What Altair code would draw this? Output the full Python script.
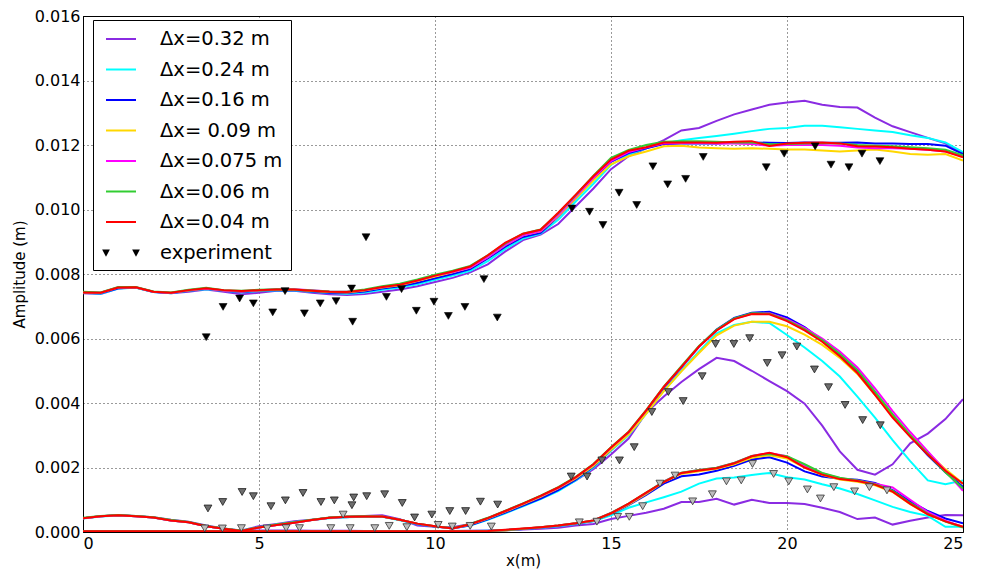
import altair as alt
import pandas as pd

# ---------------- data ----------------
X = [i * 0.5 for i in range(51)]  # simulation grid positions (m)

LABELS = ["Δx=0.32 m", "Δx=0.24 m", "Δx=0.16 m", "Δx= 0.09 m",
          "Δx=0.075 m", "Δx=0.06 m", "Δx=0.04 m"]
COLORS = ["#8a2be2", "#00ffff", "#0000ff", "#ffd700", "#ff00ff", "#32cd32", "#ff0000"]
EXP_LABEL = "experiment"

XTICKS = [0, 5, 10, 15, 20, 25]
YTICKS = [0.0, 0.002, 0.004, 0.006, 0.008, 0.010, 0.012, 0.014, 0.016]

# first harmonic
P1 = [0.00740,0.00738,0.00755,0.00758,0.00745,0.00740,0.00745,0.00752,0.00745,0.00737,
      0.00742,0.00748,0.00748,0.00742,0.00737,0.00735,0.00738,0.00745,0.00752,0.00762,
      0.00775,0.00788,0.00805,0.00830,0.00870,0.00905,0.00922,0.00955,0.01010,0.01065,
      0.01125,0.01165,0.01190,0.01215,0.01245,0.01253,0.01275,0.01295,0.01310,0.01325,
      0.01332,0.01337,0.01325,0.01318,0.01316,0.01285,0.01258,0.01240,0.01222,0.01205,
      0.01175]
C1 = [0.00742,0.00739,0.00755,0.00757,0.00744,0.00740,0.00748,0.00753,0.00748,0.00743,
      0.00747,0.00749,0.00749,0.00745,0.00741,0.00739,0.00743,0.00751,0.00758,0.00768,
      0.00782,0.00795,0.00810,0.00840,0.00878,0.00910,0.00925,0.00968,0.01025,0.01080,
      0.01138,0.01170,0.01190,0.01205,0.01215,0.01222,0.01228,0.01235,0.01243,0.01250,
      0.01253,0.01260,0.01260,0.01255,0.01250,0.01245,0.01240,0.01230,0.01222,0.01208,
      0.01178]
B1 = [0.00742,0.00740,0.00756,0.00758,0.00744,0.00741,0.00748,0.00754,0.00748,0.00744,
      0.00748,0.00750,0.00750,0.00746,0.00742,0.00741,0.00746,0.00755,0.00762,0.00773,
      0.00787,0.00800,0.00815,0.00848,0.00885,0.00915,0.00928,0.00978,0.01035,0.01093,
      0.01148,0.01175,0.01190,0.01203,0.01205,0.01205,0.01205,0.01207,0.01208,0.01207,
      0.01206,0.01208,0.01207,0.01207,0.01208,0.01205,0.01205,0.01203,0.01203,0.01198,
      0.01172]
Y1 = [0.00743,0.00742,0.00758,0.00758,0.00745,0.00742,0.00749,0.00755,0.00749,0.00746,
      0.00749,0.00751,0.00751,0.00747,0.00744,0.00743,0.00749,0.00758,0.00765,0.00778,
      0.00792,0.00805,0.00820,0.00852,0.00890,0.00920,0.00932,0.00980,0.01035,0.01090,
      0.01140,0.01165,0.01180,0.01196,0.01198,0.01192,0.01190,0.01188,0.01190,0.01188,
      0.01186,0.01186,0.01183,0.01180,0.01183,0.01186,0.01180,0.01172,0.01170,0.01172,
      0.01152]
M1 = [0.00744,0.00742,0.00759,0.00759,0.00745,0.00741,0.00750,0.00755,0.00749,0.00746,
      0.00750,0.00753,0.00753,0.00750,0.00746,0.00745,0.00750,0.00760,0.00768,0.00780,
      0.00795,0.00806,0.00820,0.00852,0.00890,0.00920,0.00933,0.00983,0.01040,0.01098,
      0.01150,0.01178,0.01192,0.01205,0.01206,0.01207,0.01205,0.01205,0.01203,0.01198,
      0.01200,0.01200,0.01200,0.01198,0.01192,0.01190,0.01190,0.01188,0.01185,0.01180,
      0.01165]
G1 = [0.00745,0.00743,0.00760,0.00760,0.00746,0.00743,0.00751,0.00757,0.00750,0.00748,
      0.00751,0.00753,0.00752,0.00749,0.00746,0.00745,0.00752,0.00762,0.00770,0.00783,
      0.00798,0.00810,0.00825,0.00858,0.00895,0.00925,0.00938,0.00988,0.01045,0.01105,
      0.01160,0.01185,0.01200,0.01210,0.01212,0.01212,0.01210,0.01208,0.01208,0.01202,
      0.01203,0.01205,0.01206,0.01205,0.01200,0.01198,0.01196,0.01193,0.01190,0.01185,
      0.01168]
R1 = [0.00743,0.00742,0.00758,0.00759,0.00745,0.00742,0.00750,0.00756,0.00750,0.00747,
      0.00750,0.00752,0.00752,0.00748,0.00745,0.00744,0.00750,0.00760,0.00767,0.00780,
      0.00795,0.00808,0.00823,0.00858,0.00897,0.00925,0.00937,0.00990,0.01046,0.01103,
      0.01155,0.01182,0.01193,0.01208,0.01208,0.01208,0.01207,0.01210,0.01212,0.01197,
      0.01205,0.01207,0.01208,0.01205,0.01196,0.01195,0.01193,0.01188,0.01185,0.01180,
      0.01162]

# second harmonic
P2 = [0.00043,0.00049,0.00052,0.00050,0.00046,0.00038,0.00032,0.00020,0.00011,0.00005,
      0.00018,0.00025,0.00033,0.00038,0.00044,0.00046,0.00050,0.00052,0.00040,0.00020,
      0.00016,0.00015,0.00025,0.00043,0.00064,0.00086,0.00108,0.00130,0.00160,0.00195,
      0.00240,0.00290,0.00370,0.00420,0.00465,0.00505,0.00540,0.00530,0.00500,0.00468,
      0.00437,0.00398,0.00330,0.00250,0.00193,0.00178,0.00210,0.00275,0.00305,0.00350,
      0.00412]
C2 = [0.00042,0.00048,0.00051,0.00049,0.00045,0.00036,0.00030,0.00018,0.00010,0.00004,
      0.00015,0.00023,0.00030,0.00037,0.00043,0.00046,0.00047,0.00047,0.00036,0.00024,
      0.00017,0.00012,0.00020,0.00038,0.00058,0.00080,0.00102,0.00127,0.00160,0.00200,
      0.00252,0.00300,0.00367,0.00438,0.00500,0.00560,0.00616,0.00642,0.00652,0.00648,
      0.00611,0.00572,0.00530,0.00482,0.00420,0.00355,0.00285,0.00220,0.00160,0.00148,
      0.00160]
B2 = [0.00043,0.00049,0.00052,0.00049,0.00045,0.00036,0.00030,0.00018,0.00010,0.00003,
      0.00014,0.00022,0.00029,0.00037,0.00044,0.00047,0.00048,0.00048,0.00038,0.00025,
      0.00017,0.00011,0.00021,0.00039,0.00060,0.00082,0.00104,0.00130,0.00162,0.00203,
      0.00255,0.00305,0.00372,0.00447,0.00510,0.00575,0.00628,0.00664,0.00680,0.00683,
      0.00665,0.00635,0.00595,0.00550,0.00500,0.00432,0.00362,0.00298,0.00238,0.00185,
      0.00140]
Y2 = [0.00043,0.00049,0.00052,0.00049,0.00045,0.00036,0.00030,0.00018,0.00010,0.00003,
      0.00014,0.00022,0.00029,0.00037,0.00044,0.00047,0.00048,0.00048,0.00038,0.00026,
      0.00018,0.00011,0.00023,0.00042,0.00063,0.00086,0.00109,0.00135,0.00166,0.00205,
      0.00255,0.00302,0.00367,0.00437,0.00498,0.00555,0.00610,0.00640,0.00652,0.00652,
      0.00638,0.00612,0.00580,0.00540,0.00490,0.00425,0.00360,0.00300,0.00245,0.00195,
      0.00150]
M2 = [0.00043,0.00049,0.00052,0.00049,0.00045,0.00036,0.00030,0.00018,0.00010,0.00003,
      0.00014,0.00022,0.00029,0.00037,0.00044,0.00047,0.00048,0.00048,0.00038,0.00026,
      0.00018,0.00011,0.00024,0.00043,0.00065,0.00088,0.00111,0.00137,0.00169,0.00209,
      0.00261,0.00309,0.00376,0.00449,0.00511,0.00574,0.00625,0.00661,0.00677,0.00678,
      0.00660,0.00633,0.00600,0.00560,0.00510,0.00445,0.00375,0.00310,0.00250,0.00190,
      0.00128]
G2 = [0.00044,0.00050,0.00053,0.00050,0.00046,0.00037,0.00031,0.00019,0.00011,0.00004,
      0.00015,0.00023,0.00030,0.00038,0.00045,0.00048,0.00049,0.00048,0.00038,0.00026,
      0.00018,0.00012,0.00025,0.00044,0.00066,0.00089,0.00113,0.00139,0.00171,0.00211,
      0.00263,0.00311,0.00378,0.00451,0.00514,0.00577,0.00627,0.00662,0.00678,0.00677,
      0.00657,0.00629,0.00595,0.00553,0.00502,0.00435,0.00365,0.00300,0.00242,0.00185,
      0.00135]
R2 = [0.00043,0.00049,0.00052,0.00049,0.00045,0.00036,0.00030,0.00018,0.00010,0.00003,
      0.00014,0.00022,0.00029,0.00037,0.00044,0.00047,0.00048,0.00048,0.00038,0.00026,
      0.00018,0.00011,0.00024,0.00043,0.00065,0.00088,0.00112,0.00138,0.00170,0.00210,
      0.00262,0.00310,0.00377,0.00450,0.00512,0.00575,0.00625,0.00660,0.00676,0.00675,
      0.00654,0.00625,0.00590,0.00545,0.00493,0.00425,0.00355,0.00295,0.00240,0.00190,
      0.00150]

# third harmonic
P3 = [0.00003,0.00003,0.00003,0.00003,0.00003,0.00003,0.00003,0.00003,0.00003,0.00004,
      0.00005,0.00005,0.00005,0.00004,0.00004,0.00004,0.00003,0.00003,0.00003,0.00003,
      0.00003,0.00003,0.00004,0.00005,0.00006,0.00008,0.00010,0.00013,0.00020,0.00025,
      0.00040,0.00050,0.00060,0.00072,0.00093,0.00093,0.00103,0.00085,0.00100,0.00090,
      0.00090,0.00087,0.00075,0.00062,0.00040,0.00045,0.00023,0.00035,0.00045,0.00053,
      0.00052]
C3 = [0.00002,0.00002,0.00002,0.00002,0.00002,0.00002,0.00002,0.00002,0.00002,0.00002,
      0.00002,0.00002,0.00002,0.00002,0.00002,0.00002,0.00002,0.00002,0.00002,0.00002,
      0.00002,0.00002,0.00003,0.00004,0.00006,0.00009,0.00013,0.00018,0.00025,0.00033,
      0.00052,0.00075,0.00092,0.00108,0.00125,0.00150,0.00166,0.00169,0.00177,0.00183,
      0.00170,0.00163,0.00148,0.00135,0.00118,0.00098,0.00078,0.00062,0.00050,0.00016,
      0.00016]
B3 = [0.00002,0.00002,0.00002,0.00002,0.00002,0.00002,0.00002,0.00002,0.00002,0.00002,
      0.00002,0.00002,0.00002,0.00002,0.00002,0.00002,0.00002,0.00002,0.00002,0.00002,
      0.00002,0.00002,0.00002,0.00003,0.00005,0.00009,0.00014,0.00019,0.00026,0.00034,
      0.00056,0.00083,0.00115,0.00150,0.00173,0.00178,0.00190,0.00205,0.00225,0.00232,
      0.00215,0.00188,0.00172,0.00165,0.00162,0.00152,0.00130,0.00095,0.00065,0.00042,
      0.00027]
Y3 = [0.00002,0.00002,0.00002,0.00002,0.00002,0.00002,0.00002,0.00002,0.00002,0.00002,
      0.00002,0.00002,0.00002,0.00002,0.00002,0.00002,0.00002,0.00002,0.00002,0.00002,
      0.00002,0.00002,0.00002,0.00003,0.00005,0.00010,0.00015,0.00020,0.00027,0.00035,
      0.00057,0.00085,0.00118,0.00155,0.00180,0.00188,0.00196,0.00210,0.00230,0.00238,
      0.00228,0.00200,0.00177,0.00163,0.00156,0.00145,0.00124,0.00086,0.00055,0.00033,
      0.00017]
M3 = [0.00002,0.00002,0.00002,0.00002,0.00002,0.00002,0.00002,0.00002,0.00002,0.00002,
      0.00002,0.00002,0.00002,0.00002,0.00002,0.00002,0.00002,0.00002,0.00002,0.00002,
      0.00002,0.00002,0.00002,0.00003,0.00006,0.00010,0.00015,0.00020,0.00027,0.00036,
      0.00059,0.00087,0.00121,0.00157,0.00183,0.00192,0.00199,0.00214,0.00236,0.00245,
      0.00235,0.00205,0.00182,0.00167,0.00160,0.00150,0.00138,0.00100,0.00062,0.00035,
      0.00015]
G3 = [0.00002,0.00002,0.00002,0.00002,0.00002,0.00002,0.00002,0.00002,0.00002,0.00002,
      0.00002,0.00002,0.00002,0.00002,0.00002,0.00002,0.00002,0.00002,0.00002,0.00002,
      0.00002,0.00002,0.00002,0.00003,0.00006,0.00010,0.00015,0.00020,0.00027,0.00036,
      0.00059,0.00088,0.00122,0.00156,0.00184,0.00192,0.00199,0.00214,0.00236,0.00242,
      0.00235,0.00210,0.00183,0.00168,0.00160,0.00148,0.00128,0.00090,0.00057,0.00032,
      0.00014]
R3 = [0.00002,0.00002,0.00002,0.00002,0.00002,0.00002,0.00002,0.00002,0.00002,0.00002,
      0.00002,0.00002,0.00002,0.00002,0.00002,0.00002,0.00002,0.00002,0.00002,0.00002,
      0.00002,0.00002,0.00002,0.00003,0.00007,0.00011,0.00015,0.00020,0.00027,0.00036,
      0.00058,0.00088,0.00122,0.00155,0.00183,0.00191,0.00198,0.00213,0.00235,0.00246,
      0.00232,0.00200,0.00178,0.00164,0.00158,0.00147,0.00125,0.00087,0.00055,0.00033,
      0.00016]

# experiment: first harmonic (black)
EXP1_X = [3.50, 3.98, 4.45, 4.84, 5.39, 5.74, 6.29, 6.74, 7.19, 7.63, 7.66, 8.04,
          8.62, 9.05, 9.47, 9.97, 10.38, 10.85, 11.39, 11.77, 13.89, 14.39, 14.77,
          15.23, 15.73, 16.19, 16.61, 17.12, 17.62, 19.41, 19.92, 20.80, 21.25,
          21.76, 22.13, 22.64]
EXP1_Y = [0.00604, 0.00698, 0.00724, 0.00709, 0.00681, 0.00747, 0.00678, 0.00709,
          0.00716, 0.00755, 0.00652, 0.00914, 0.00729, 0.00753, 0.00686, 0.00714,
          0.00670, 0.00698, 0.00784, 0.00665, 0.01003, 0.00993, 0.00952, 0.01052,
          0.01014, 0.01134, 0.01078, 0.01095, 0.01163, 0.01131, 0.01173, 0.01196,
          0.01139, 0.01131, 0.01173, 0.01150]
# experiment: second harmonic (dark grey)
EXP2_X = [3.55, 3.97, 4.52, 4.84, 5.34, 5.75, 6.25, 6.76, 7.14, 7.69, 7.64, 8.06,
          8.57, 9.07, 9.42, 9.91, 10.42, 10.87, 11.29, 11.78, 13.87, 14.32, 14.74,
          15.24, 15.66, 16.16, 16.63, 17.05, 17.59, 17.97, 18.49, 18.94, 19.44,
          19.86, 20.28, 20.78, 21.18, 21.65, 22.15, 22.65]
EXP2_Y = [0.00073, 0.00093, 0.00124, 0.00111, 0.00080, 0.00098, 0.00121, 0.00093,
          0.00098, 0.00107, 0.00083, 0.00111, 0.00117, 0.00090, 0.00045, 0.00054,
          0.00065, 0.00065, 0.00094, 0.00085, 0.00172, 0.00172, 0.00222, 0.00222,
          0.00263, 0.00372, 0.00434, 0.00406, 0.00483, 0.00583, 0.00583, 0.00601,
          0.00524, 0.00548, 0.00575, 0.00504, 0.00449, 0.00394, 0.00347, 0.00331]
# experiment: third harmonic (light grey)
EXP3_X = [3.46, 3.96, 4.50, 5.23, 5.77, 6.15, 7.04, 7.39, 7.59, 8.29, 8.70, 9.20,
          10.09, 10.49, 11.00, 11.60, 14.10, 14.60, 15.19, 15.52, 15.90, 16.39,
          16.82, 17.32, 17.88, 18.28, 18.70, 19.02, 19.62, 20.05, 20.58, 20.95,
          21.33, 21.92, 22.34, 22.84]
EXP3_Y = [0.00011, 0.00011, 0.00012, 0.00011, 0.00012, 0.00012, 0.00012, 0.00054,
          0.00012, 0.00012, 0.00019, 0.00015, 0.00022, 0.00017, 0.00019, 0.00017,
          0.00030, 0.00032, 0.00047, 0.00047, 0.00080, 0.00150, 0.00175, 0.00095,
          0.00117, 0.00157, 0.00160, 0.00211, 0.00180, 0.00157, 0.00132, 0.00104,
          0.00139, 0.00126, 0.00139, 0.00129]

SERIES = [(P1, P2, P3), (C1, C2, C3), (B1, B2, B3), (Y1, Y2, Y3),
          (M1, M2, M3), (G1, G2, G3), (R1, R2, R3)]

# ---------------- tables ----------------
rows = []
for lab, harms in zip(LABELS, SERIES):
    for h, vals in enumerate(harms, start=1):
        for xv, yv in zip(X, vals):
            rows.append({"series": lab, "harm": h, "x": xv, "y": yv})
df = pd.DataFrame(rows)

exp1 = pd.DataFrame({"x": EXP1_X, "y": EXP1_Y})
exp2 = pd.DataFrame({"x": EXP2_X, "y": EXP2_Y})
exp3 = pd.DataFrame({"x": EXP3_X, "y": EXP3_Y})

ALL = LABELS + [EXP_LABEL]
TRI2 = ("M-1.72,-0.2L-1.28,-0.2L-1.5,0.22Z"
        "M1.28,-0.2L1.72,-0.2L1.5,0.22Z")
LINE = "M-1.5,0L1.5,0"
SHAPES = [LINE] * 7 + [TRI2]
STROKES = COLORS + ["#000000"]
leg_df = pd.DataFrame({"series": ALL, "x": [None] * 8, "y": [None] * 8})

# ---------------- encodings ----------------
FONT = "DejaVu Sans"
xenc = alt.X("x:Q", scale=alt.Scale(domain=[0, 25], nice=False, zero=False),
             axis=alt.Axis(values=XTICKS, title="x(m)", format="d"))
yenc = alt.Y("y:Q", scale=alt.Scale(domain=[0, 0.016], nice=False, zero=False),
             axis=alt.Axis(values=YTICKS, title="Amplitude (m)", format=".3f"))

layers = []
for lab in LABELS:
    layers.append(
        alt.Chart(df[df["series"] == lab]).mark_line(strokeWidth=2, clip=True).encode(
            x=xenc, y=yenc,
            color=alt.Color("series:N", scale=alt.Scale(domain=LABELS, range=COLORS), legend=None),
            detail="harm:N",
        )
    )

layers.append(alt.Chart(exp1).mark_point(shape="triangle-down", filled=True, size=62,
                                         fill="#000000", stroke="#000000", strokeWidth=0.6,
                                         opacity=1).encode(x=xenc, y=yenc))
layers.append(alt.Chart(exp2).mark_point(shape="triangle-down", filled=True, size=62,
                                         fill="#6e6e6e", stroke="#1a1a1a", strokeWidth=0.8,
                                         opacity=1).encode(x=xenc, y=yenc))
layers.append(alt.Chart(exp3).mark_point(shape="triangle-down", filled=True, size=62,
                                         fill="#bdbdbd", stroke="#333333", strokeWidth=0.8,
                                         opacity=1).encode(x=xenc, y=yenc))

legend = alt.Legend(title=None, orient="none", legendX=10, legendY=4, padding=8,
                    labelFontSize=19.5, labelFont=FONT, labelColor="black",
                    symbolSize=400, symbolStrokeWidth=2, symbolOffset=9,
                    labelOffset=28, rowPadding=9.5, strokeColor="black",
                    fillColor="white", cornerRadius=0, labelLimit=400)
layers.append(
    alt.Chart(leg_df).mark_point(filled=True, opacity=1).encode(
        x=xenc, y=yenc,
        shape=alt.Shape("series:N", scale=alt.Scale(domain=ALL, range=SHAPES), legend=legend),
        fill=alt.Fill("series:N", scale=alt.Scale(domain=ALL, range=STROKES), legend=legend),
        stroke=alt.Stroke("series:N", scale=alt.Scale(domain=ALL, range=STROKES), legend=legend),
    )
)

chart = alt.layer(*layers).properties(
    width=880, height=516,
    autosize=alt.AutoSizeParams(type="none"),
    padding={"left": 75, "top": 8, "right": 9, "bottom": 40},
    background="white",
).configure_view(
    stroke="black", strokeWidth=1
).configure_axis(
    labelFont=FONT, titleFont=FONT, labelFontSize=16, titleFontSize=15,
    titleFontWeight="normal", labelColor="black", titleColor="black",
    domainColor="black", ticks=False, labelPadding=3,
    grid=True, gridColor="black", gridDash=[1, 3], gridWidth=0.8, gridOpacity=1,
).configure_axisY(titlePadding=7).configure_axisX(labelPadding=3, titlePadding=2)

chart.save("out.html", embed_options={"renderer": "svg", "actions": False})
